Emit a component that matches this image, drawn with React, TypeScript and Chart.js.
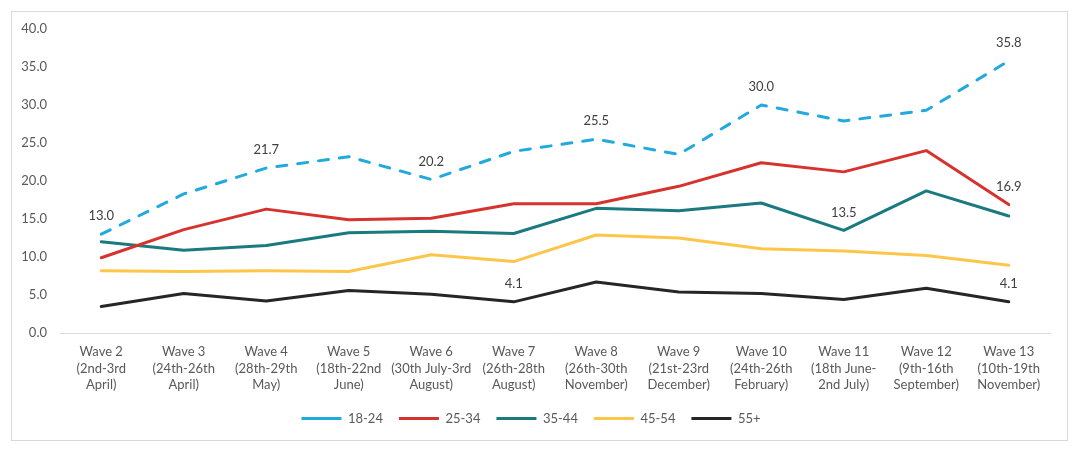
import React, { useEffect, useRef } from "react";
import { Chart, registerables } from "chart.js";

Chart.register(...registerables);

const waveLabels: string[][] = [
  ["Wave 2", "(2nd-3rd", "April)"],
  ["Wave 3", "(24th-26th", "April)"],
  ["Wave 4", "(28th-29th", "May)"],
  ["Wave 5", "(18th-22nd", "June)"],
  ["Wave 6", "(30th July-3rd", "August)"],
  ["Wave 7", "(26th-28th", "August)"],
  ["Wave 8", "(26th-30th", "November)"],
  ["Wave 9", "(21st-23rd", "December)"],
  ["Wave 10", "(24th-26th", "February)"],
  ["Wave 11", "(18th June-", "2nd July)"],
  ["Wave 12", "(9th-16th", "September)"],
  ["Wave 13", "(10th-19th", "November)"],
];

const age18to24 = [13.0, 18.3, 21.7, 23.2, 20.2, 23.9, 25.5, 23.5, 30.0, 27.9, 29.3, 35.8];
const age25to34 = [9.9, 13.6, 16.3, 14.9, 15.1, 17.0, 17.0, 19.3, 22.4, 21.2, 24.0, 16.9];
const age35to44 = [12.0, 10.9, 11.5, 13.2, 13.4, 13.1, 16.4, 16.1, 17.1, 13.5, 18.7, 15.4];
const age45to54 = [8.2, 8.1, 8.2, 8.1, 10.3, 9.4, 12.9, 12.5, 11.1, 10.8, 10.2, 8.9];
const age55plus = [3.5, 5.2, 4.2, 5.6, 5.1, 4.1, 6.7, 5.4, 5.2, 4.4, 5.9, 4.1];

// which points carry a value label
const labelled18to24 = [0, 2, 4, 6, 8, 11];
const labelled25to34 = [11];
const labelled35to44 = [9];
const labelled45to54: number[] = [];
const labelled55plus = [5, 11];

const yTicks = [0, 5, 10, 15, 20, 25, 30, 35, 40];

const FONT = "Lato, 'Open Sans', sans-serif";

const pointLabels = {
  id: "pointLabels",
  afterDatasetsDraw(chart: any) {
    const ctx = chart.ctx;
    ctx.save();
    ctx.font = `13px ${FONT}`;
    ctx.fillStyle = "#404040";
    ctx.textAlign = "center";
    ctx.textBaseline = "middle";
    chart.data.datasets.forEach((ds: any, i: number) => {
      const meta = chart.getDatasetMeta(i);
      (ds.labelled || []).forEach((idx: number) => {
        const pt = meta.data[idx];
        ctx.fillText(ds.data[idx].toFixed(1), pt.x, pt.y - 18);
      });
    });
    ctx.restore();
  },
};

export default function App() {
  const canvasRef = useRef<HTMLCanvasElement>(null);

  useEffect(() => {
    if (!canvasRef.current) return;
    const line = (label: string, data: number[], color: string, labelled: number[], dash: number[] = []) => ({
      label,
      data,
      labelled,
      borderColor: color,
      backgroundColor: color,
      borderWidth: 3,
      borderDash: dash,
      borderCapStyle: "round",
      borderJoinStyle: "round",
      pointRadius: 0,
      pointHoverRadius: 0,
      tension: 0,
      fill: false,
    });

    const chart = new Chart(canvasRef.current, {
      type: "line",
      data: {
        labels: waveLabels,
        datasets: [
          line("18-24", age18to24, "#22A9DD", labelled18to24, [10, 11]),
          line("25-34", age25to34, "#D6332E", labelled25to34),
          line("35-44", age35to44, "#1A7A80", labelled35to44),
          line("45-54", age45to54, "#FCC64A", labelled45to54),
          line("55+", age55plus, "#262626", labelled55plus),
        ] as any,
      },
      options: {
        animation: false,
        responsive: true,
        maintainAspectRatio: false,
        layout: { padding: { top: 17, right: 17, bottom: 0, left: 0 } },
        plugins: {
          tooltip: { enabled: false },
          legend: {
            position: "bottom",
            labels: {
              usePointStyle: true,
              pointStyle: "line",
              pointStyleWidth: 40,
              padding: 16,
              color: "#595959",
              font: { family: FONT, size: 13 },
            },
          },
        },
        scales: {
          x: {
            offset: true,
            grid: { display: false, drawTicks: false },
            border: { display: true, color: "#D9D9D9", width: 1 },
            ticks: {
              color: "#595959",
              font: { family: FONT, size: 13, lineHeight: 1.3 },
              padding: 10,
              autoSkip: false,
              maxRotation: 0,
            },
            afterFit: (s: any) => {
              s.height = 63;
            },
          },
          y: {
            min: 0,
            max: 40,
            grid: { display: false, drawTicks: false },
            border: { display: false },
            afterBuildTicks: (s: any) => {
              s.ticks = yTicks.map((v) => ({ value: v }));
            },
            ticks: {
              color: "#595959",
              font: { family: FONT, size: 13 },
              padding: 13,
              callback: (v: any) => Number(v).toFixed(1),
            },
            afterFit: (s: any) => {
              s.width = 48;
              s.paddingTop = 0;
              s.paddingBottom = 0;
            },
          },
        },
      },
      plugins: [pointLabels],
    });

    return () => chart.destroy();
  }, []);

  return (
    <div
      style={{
        position: "relative",
        margin: 3,
        width: 1055,
        height: 428,
        border: "1px solid #D9D9D9",
        background: "#fff",
      }}
    >
      <div style={{ position: "absolute", left: 0, top: 0, width: 1055, height: 423 }}>
        <canvas ref={canvasRef} />
      </div>
    </div>
  );
}
